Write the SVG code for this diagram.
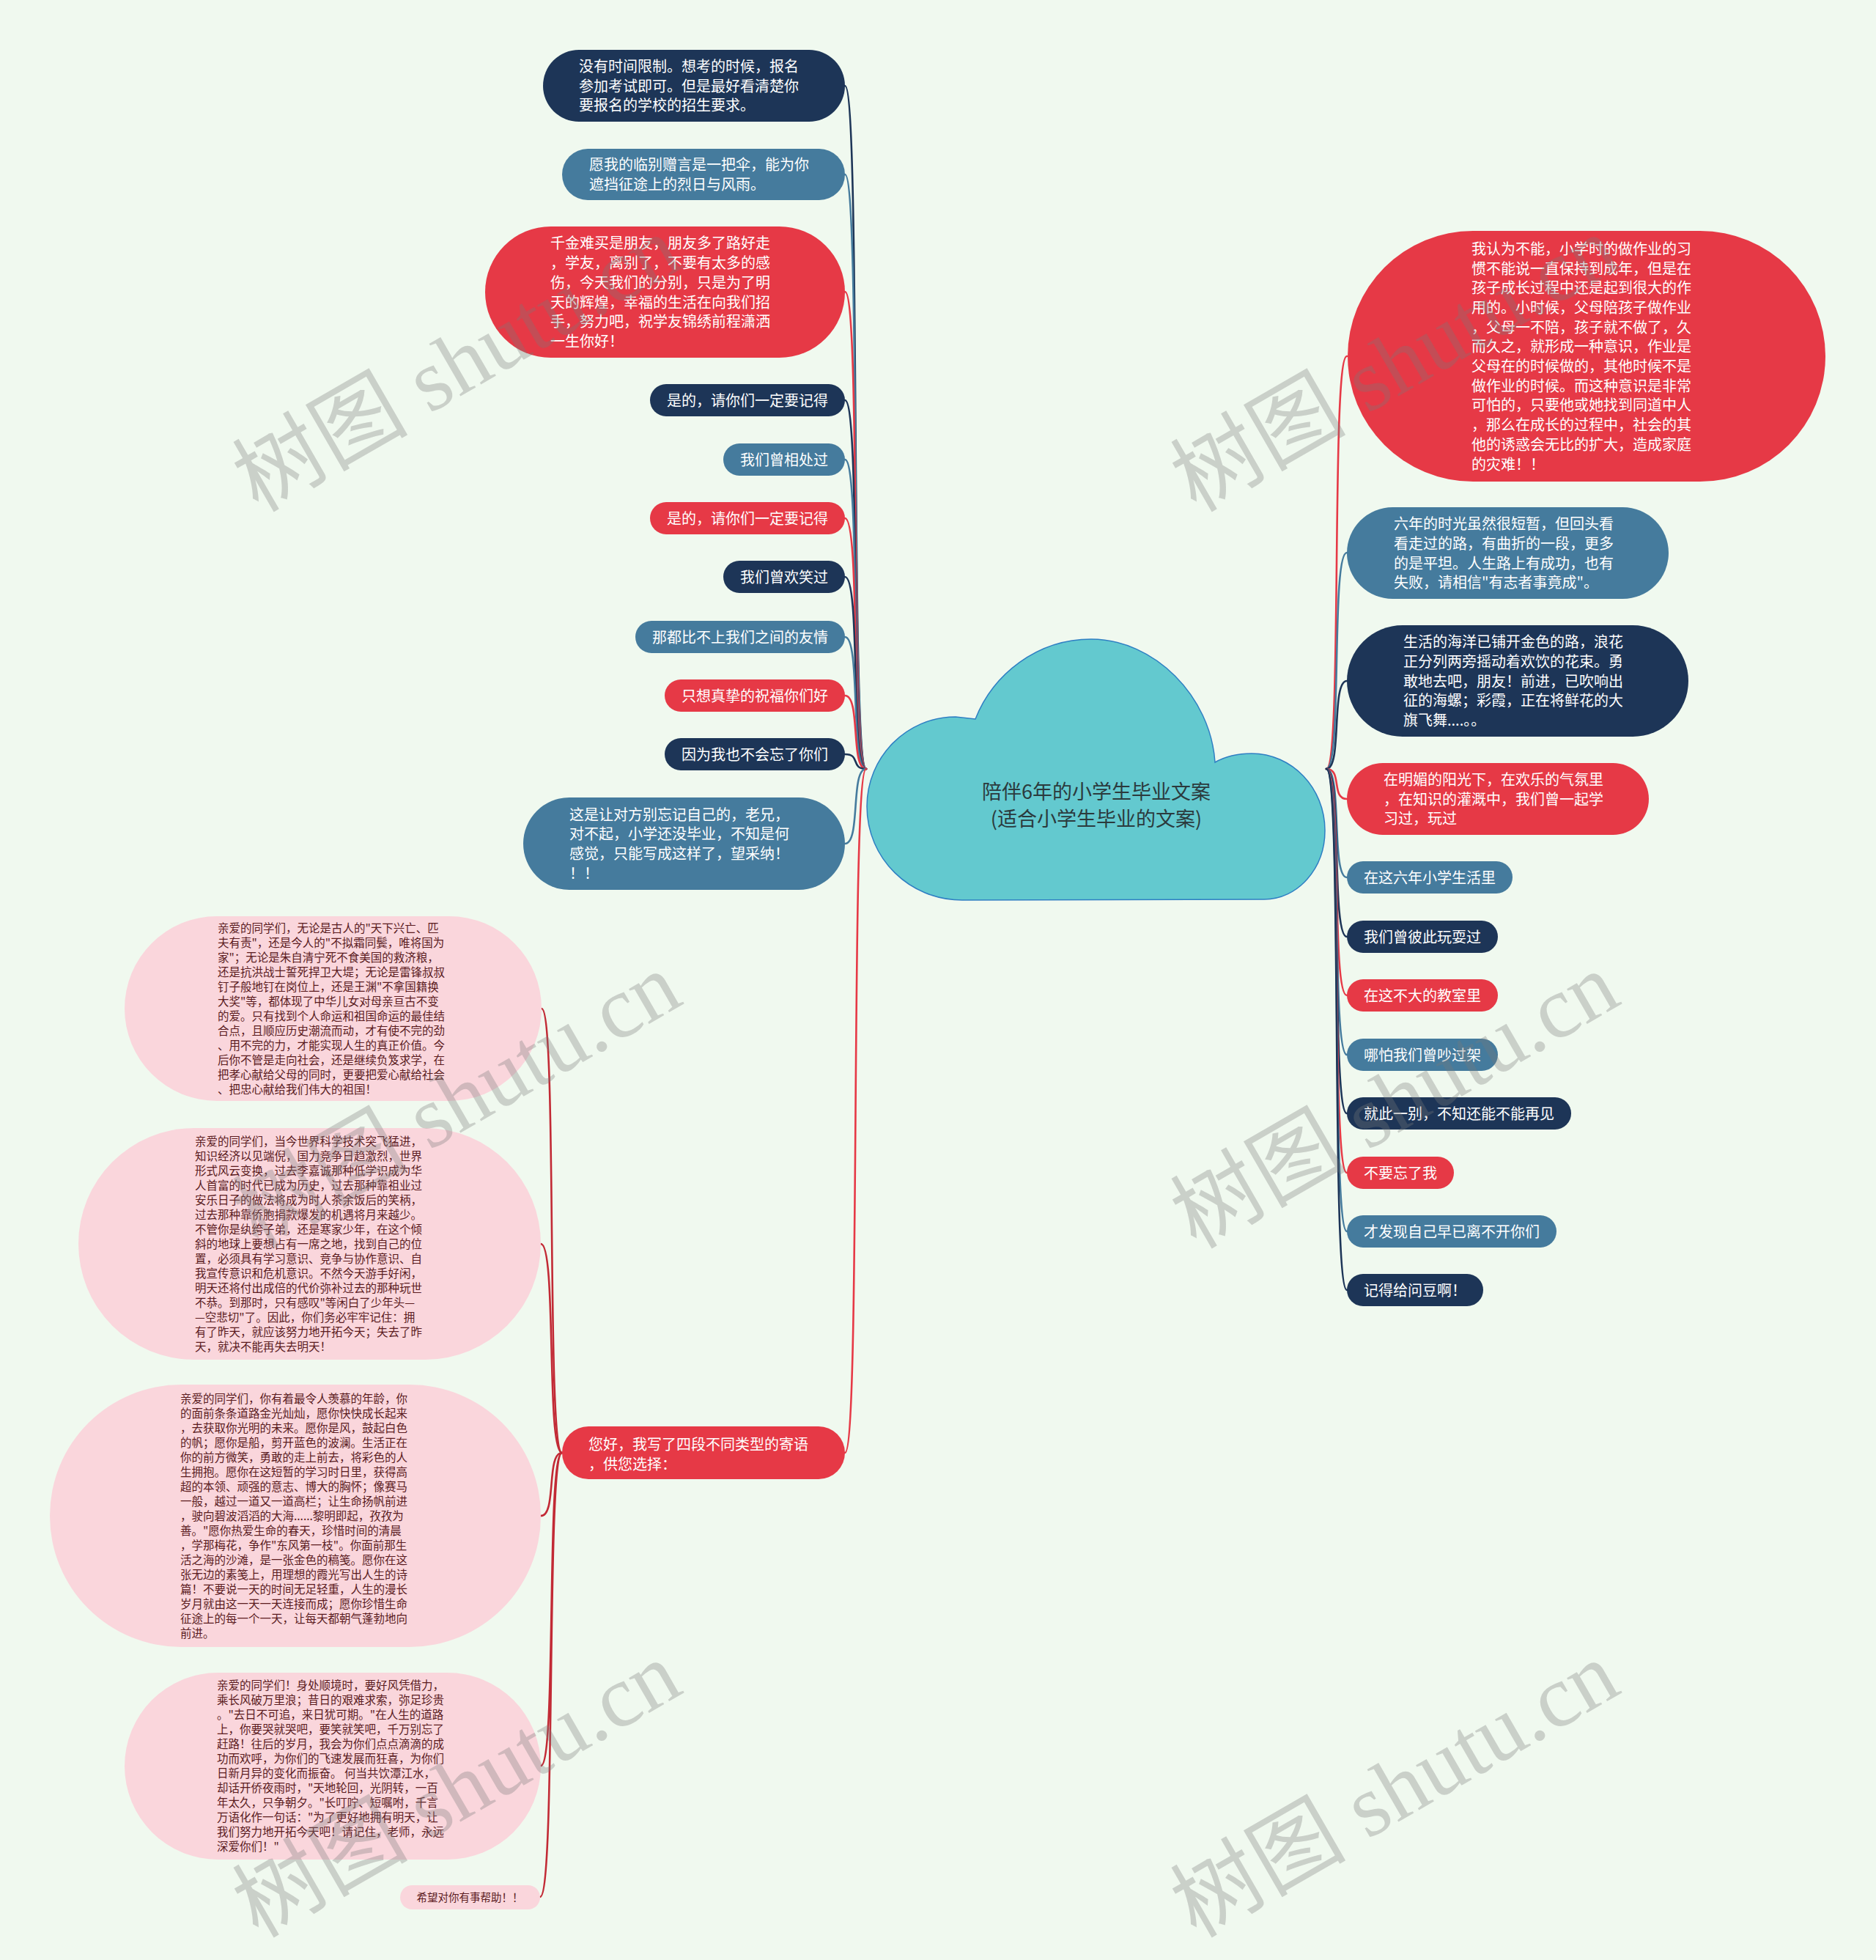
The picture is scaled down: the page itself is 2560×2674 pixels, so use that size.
<svg xmlns="http://www.w3.org/2000/svg" width="2560" height="2674" viewBox="0 0 2560 2674">
<style>
.nv{fill:#1d3557}.bl{fill:#457b9d}.rd{fill:#e63946}.pk{fill:#fad6dc}
.t{font-family:"Noto Sans CJK SC","Noto Sans",sans-serif;font-size:20px;fill:#ffffff}
.tm{font-family:"Noto Sans CJK SC","Noto Sans",sans-serif;font-size:20px;fill:#ffffff;text-anchor:middle}
.pt{font-family:"Noto Sans CJK SC","Noto Sans",sans-serif;font-size:15.5px;fill:#5a1b1e}
.c{fill:none;stroke-width:2.6;stroke-linecap:round}
.cn{stroke:#1d3557}.cb{stroke:#457b9d}.cr{stroke:#e63946}.cp{stroke:#c22a35}
.wm{font-family:"Liberation Serif","Noto Sans CJK SC",serif;font-size:120px;fill:#7a7a7a;fill-opacity:0.32}
</style>
<rect width="2560" height="2674" fill="#f0f9ef"/>

<g id="connectors">
<path class="c cn" d="M1153,117 C1175,117 1160,1049 1182,1049"/>
<path class="c cb" d="M1153,238 C1175,238 1160,1049 1182,1049"/>
<path class="c cr" d="M1153,398 C1175,398 1160,1049 1182,1049"/>
<path class="c cn" d="M1153,546 C1175,546 1160,1049 1182,1049"/>
<path class="c cb" d="M1153,627 C1175,627 1160,1049 1182,1049"/>
<path class="c cr" d="M1153,707 C1175,707 1160,1049 1182,1049"/>
<path class="c cn" d="M1153,787 C1175,787 1160,1049 1182,1049"/>
<path class="c cb" d="M1153,869 C1175,869 1160,1049 1182,1049"/>
<path class="c cr" d="M1153,949 C1175,949 1160,1049 1182,1049"/>
<path class="c cn" d="M1153,1029 C1175,1029 1160,1049 1182,1049"/>
<path class="c cb" d="M1153,1151 C1175,1151 1160,1049 1182,1049"/>
<path class="c cr" d="M1153,1982 C1175,1982 1160,1049 1182,1049"/>
<path class="c cr" d="M1838,486 C1816,486 1832,1049 1810,1049"/>
<path class="c cb" d="M1838,754 C1816,754 1832,1049 1810,1049"/>
<path class="c cn" d="M1838,929 C1816,929 1832,1049 1810,1049"/>
<path class="c cr" d="M1838,1090 C1816,1090 1832,1049 1810,1049"/>
<path class="c cb" d="M1838,1197 C1816,1197 1832,1049 1810,1049"/>
<path class="c cn" d="M1838,1278 C1816,1278 1832,1049 1810,1049"/>
<path class="c cr" d="M1838,1358 C1816,1358 1832,1049 1810,1049"/>
<path class="c cb" d="M1838,1439 C1816,1439 1832,1049 1810,1049"/>
<path class="c cn" d="M1838,1519 C1816,1519 1832,1049 1810,1049"/>
<path class="c cr" d="M1838,1600 C1816,1600 1832,1049 1810,1049"/>
<path class="c cb" d="M1838,1680 C1816,1680 1832,1049 1810,1049"/>
<path class="c cn" d="M1838,1760 C1816,1760 1832,1049 1810,1049"/>
<path class="c cp" d="M739,1376 C761,1376 745,1982 767,1982"/>
<path class="c cp" d="M738,1697 C760,1697 745,1982 767,1982"/>
<path class="c cp" d="M738,2068 C760,2068 745,1982 767,1982"/>
<path class="c cp" d="M738,2409 C760,2409 745,1982 767,1982"/>
<path class="c cp" d="M737,2588 C759,2588 745,1982 767,1982"/>
</g>

<g id="center">
<path d="M1313,1228 C1241,1228 1183,1171 1183,1100 C1183,1033 1237,978 1304,978 L1331,981 C1355,920 1415,872 1489,872 C1575,872 1652,950 1658,1040 C1672,1032 1690,1028 1708,1028 C1763,1028 1808,1075 1808,1133 C1808,1185 1771,1227 1725,1227 Z" fill="#63c9cf" stroke="#2f7fc3" stroke-width="1.5"/>
<text x="1496" y="1090" font-family="'Noto Sans CJK SC','Noto Sans',sans-serif" font-size="27" fill="#2b3a3d" text-anchor="middle">陪伴6年的小学生毕业文案</text>
<text x="1496" y="1127" font-family="'Noto Sans CJK SC','Noto Sans',sans-serif" font-size="27" fill="#2b3a3d" text-anchor="middle">(适合小学生毕业的文案)</text>
</g>

<g id="n1"><rect class="nv" x="741" y="68" width="412" height="98" rx="49"/>
<text class="t"><tspan x="790" y="98">没有时间限制。想考的时候，报名</tspan><tspan x="790" y="124.7">参加考试即可。但是最好看清楚你</tspan><tspan x="790" y="151.4">要报名的学校的招生要求。</tspan></text></g>

<g id="n2"><rect class="bl" x="767" y="203" width="386" height="70" rx="35"/>
<text class="t"><tspan x="804" y="232.2">愿我的临别赠言是一把伞，能为你</tspan><tspan x="804" y="258.9">遮挡征途上的烈日与风雨。</tspan></text></g>

<g id="n3"><rect class="rd" x="662" y="309" width="491" height="179" rx="89.5"/>
<text class="t"><tspan x="751" y="339.4">千金难买是朋友，朋友多了路好走</tspan><tspan x="751" y="366.1">，学友，离别了，不要有太多的感</tspan><tspan x="751" y="392.8">伤，今天我们的分别，只是为了明</tspan><tspan x="751" y="419.5">天的辉煌，幸福的生活在向我们招</tspan><tspan x="751" y="446.2">手，努力吧，祝学友锦绣前程潇洒</tspan><tspan x="751" y="472.9">一生你好！</tspan></text></g>

<g id="n4"><rect class="nv" x="887" y="524" width="266" height="44" rx="22"/><text class="tm" x="1020" y="553.6">是的，请你们一定要记得</text></g>
<g id="n5"><rect class="bl" x="987" y="605" width="166" height="44" rx="22"/><text class="tm" x="1070" y="634.6">我们曾相处过</text></g>
<g id="n6"><rect class="rd" x="887" y="685" width="266" height="44" rx="22"/><text class="tm" x="1020" y="714.6">是的，请你们一定要记得</text></g>
<g id="n7"><rect class="nv" x="987" y="765" width="166" height="44" rx="22"/><text class="tm" x="1070" y="794.6">我们曾欢笑过</text></g>
<g id="n8"><rect class="bl" x="867" y="847" width="286" height="44" rx="22"/><text class="tm" x="1010" y="876.6">那都比不上我们之间的友情</text></g>
<g id="n9"><rect class="rd" x="907" y="927" width="246" height="44" rx="22"/><text class="tm" x="1030" y="956.6">只想真挚的祝福你们好</text></g>
<g id="n10"><rect class="nv" x="907" y="1007" width="246" height="44" rx="22"/><text class="tm" x="1030" y="1036.6">因为我也不会忘了你们</text></g>

<g id="n11"><rect class="bl" x="714" y="1088" width="439" height="126" rx="63"/>
<text class="t"><tspan x="777" y="1118.6">这是让对方别忘记自己的，老兄，</tspan><tspan x="777" y="1145.3">对不起，小学还没毕业，不知是何</tspan><tspan x="777" y="1172">感觉，只能写成这样了，望采纳！</tspan><tspan x="777" y="1198.7">！！</tspan></text></g>

<g id="n12"><rect class="rd" x="1839" y="315" width="652" height="342" rx="171"/>
<text class="t"><tspan x="2008" y="346.8">我认为不能，小学时的做作业的习</tspan><tspan x="2008" y="373.5">惯不能说一直保持到成年，但是在</tspan><tspan x="2008" y="400.2">孩子成长过程中还是起到很大的作</tspan><tspan x="2008" y="426.9">用的。小时候，父母陪孩子做作业</tspan><tspan x="2008" y="453.6">，父母一不陪，孩子就不做了，久</tspan><tspan x="2008" y="480.3">而久之，就形成一种意识，作业是</tspan><tspan x="2008" y="507">父母在的时候做的，其他时候不是</tspan><tspan x="2008" y="533.7">做作业的时候。而这种意识是非常</tspan><tspan x="2008" y="560.4">可怕的，只要他或她找到同道中人</tspan><tspan x="2008" y="587.1">，那么在成长的过程中，社会的其</tspan><tspan x="2008" y="613.8">他的诱惑会无比的扩大，造成家庭</tspan><tspan x="2008" y="640.5">的灾难！！</tspan></text></g>

<g id="n13"><rect class="bl" x="1838" y="692" width="439" height="125" rx="62.5"/>
<text class="t"><tspan x="1902" y="722.1">六年的时光虽然很短暂，但回头看</tspan><tspan x="1902" y="748.8">看走过的路，有曲折的一段，更多</tspan><tspan x="1902" y="775.5">的是平坦。人生路上有成功，也有</tspan><tspan x="1902" y="802.2">失败，请相信"有志者事竟成"。</tspan></text></g>

<g id="n14"><rect class="nv" x="1838" y="853" width="466" height="152" rx="76"/>
<text class="t"><tspan x="1915" y="883.2">生活的海洋已铺开金色的路，浪花</tspan><tspan x="1915" y="909.9">正分列两旁摇动着欢饮的花束。勇</tspan><tspan x="1915" y="936.6">敢地去吧，朋友！前进，已吹响出</tspan><tspan x="1915" y="963.3">征的海螺；彩霞，正在将鲜花的大</tspan><tspan x="1915" y="990">旗飞舞....。。</tspan></text></g>

<g id="n15"><rect class="rd" x="1838" y="1041" width="412" height="98" rx="49"/>
<text class="t"><tspan x="1888" y="1070.9">在明媚的阳光下，在欢乐的气氛里</tspan><tspan x="1888" y="1097.6">，在知识的灌溉中，我们曾一起学</tspan><tspan x="1888" y="1124.3">习过，玩过</tspan></text></g>

<g id="n16"><rect class="bl" x="1838" y="1175" width="226" height="44" rx="22"/><text class="tm" x="1951" y="1204.6">在这六年小学生活里</text></g>
<g id="n17"><rect class="nv" x="1838" y="1256" width="206" height="44" rx="22"/><text class="tm" x="1941" y="1285.6">我们曾彼此玩耍过</text></g>
<g id="n18"><rect class="rd" x="1838" y="1336" width="206" height="44" rx="22"/><text class="tm" x="1941" y="1365.6">在这不大的教室里</text></g>
<g id="n19"><rect class="bl" x="1838" y="1417" width="206" height="44" rx="22"/><text class="tm" x="1941" y="1446.6">哪怕我们曾吵过架</text></g>
<g id="n20"><rect class="nv" x="1838" y="1497" width="306" height="44" rx="22"/><text class="tm" x="1991" y="1526.6">就此一别，不知还能不能再见</text></g>
<g id="n21"><rect class="rd" x="1838" y="1578" width="146" height="44" rx="22"/><text class="tm" x="1911" y="1607.6">不要忘了我</text></g>
<g id="n22"><rect class="bl" x="1838" y="1658" width="286" height="44" rx="22"/><text class="tm" x="1981" y="1687.6">才发现自己早已离不开你们</text></g>
<g id="n23"><rect class="nv" x="1838" y="1738" width="186" height="44" rx="22"/><text class="tm" x="1931" y="1767.6">记得给问豆啊！</text></g>

<g id="n24"><rect class="rd" x="767" y="1946" width="386" height="72" rx="36"/>
<text class="t"><tspan x="803" y="1978">您好，我写了四段不同类型的寄语</tspan><tspan x="803" y="2004.7">，供您选择：</tspan></text></g>

<g id="p1"><rect class="pk" x="170" y="1250" width="569" height="252" rx="126"/>
<text class="pt"><tspan x="297" y="1271.9">亲爱的同学们，无论是古人的"天下兴亡、匹</tspan><tspan x="297" dy="20">夫有责"，还是今人的"不拟霜同鬓，唯将国为</tspan><tspan x="297" dy="20">家"；无论是朱自清宁死不食美国的救济粮，</tspan><tspan x="297" dy="20">还是抗洪战士誓死捍卫大堤；无论是雷锋叔叔</tspan><tspan x="297" dy="20">钉子般地钉在岗位上，还是王渊"不拿国籍换</tspan><tspan x="297" dy="20">大奖"等，都体现了中华儿女对母亲亘古不变</tspan><tspan x="297" dy="20">的爱。只有找到个人命运和祖国命运的最佳结</tspan><tspan x="297" dy="20">合点，且顺应历史潮流而动，才有使不完的劲</tspan><tspan x="297" dy="20">、用不完的力，才能实现人生的真正价值。今</tspan><tspan x="297" dy="20">后你不管是走向社会，还是继续负笈求学，在</tspan><tspan x="297" dy="20">把孝心献给父母的同时，更要把爱心献给社会</tspan><tspan x="297" dy="20">、把忠心献给我们伟大的祖国！</tspan></text></g>

<g id="p2"><rect class="pk" x="107" y="1539" width="631" height="316" rx="158"/>
<text class="pt"><tspan x="266" y="1562.9">亲爱的同学们，当今世界科学技术突飞猛进，</tspan><tspan x="266" dy="20">知识经济以见端倪，国力竞争日趋激烈，世界</tspan><tspan x="266" dy="20">形式风云变换，过去李嘉诚那种低学识成为华</tspan><tspan x="266" dy="20">人首富的时代已成为历史，过去那种靠祖业过</tspan><tspan x="266" dy="20">安乐日子的做法将成为时人茶余饭后的笑柄，</tspan><tspan x="266" dy="20">过去那种靠侨胞捐款爆发的机遇将月来越少。</tspan><tspan x="266" dy="20">不管你是纨绔子弟，还是寒家少年，在这个倾</tspan><tspan x="266" dy="20">斜的地球上要想占有一席之地，找到自己的位</tspan><tspan x="266" dy="20">置，必须具有学习意识、竞争与协作意识、自</tspan><tspan x="266" dy="20">我宣传意识和危机意识。不然今天游手好闲，</tspan><tspan x="266" dy="20">明天还将付出成倍的代价弥补过去的那种玩世</tspan><tspan x="266" dy="20">不恭。到那时，只有感叹"等闲白了少年头—</tspan><tspan x="266" dy="20">—空悲切"了。因此，你们务必牢牢记住：拥</tspan><tspan x="266" dy="20">有了昨天，就应该努力地开拓今天；失去了昨</tspan><tspan x="266" dy="20">天，就决不能再失去明天！</tspan></text></g>

<g id="p3"><rect class="pk" x="68" y="1889" width="670" height="358" rx="179"/>
<text class="pt"><tspan x="246" y="1913.9">亲爱的同学们，你有着最令人羡慕的年龄，你</tspan><tspan x="246" dy="20">的面前条条道路金光灿灿，愿你快快成长起来</tspan><tspan x="246" dy="20">，去获取你光明的未来。愿你是风，鼓起白色</tspan><tspan x="246" dy="20">的帆；愿你是船，剪开蓝色的波澜。生活正在</tspan><tspan x="246" dy="20">你的前方微笑，勇敢的走上前去，将彩色的人</tspan><tspan x="246" dy="20">生拥抱。愿你在这短暂的学习时日里，获得高</tspan><tspan x="246" dy="20">超的本领、顽强的意志、博大的胸怀；像赛马</tspan><tspan x="246" dy="20">一般，越过一道又一道高栏；让生命扬帆前进</tspan><tspan x="246" dy="20">，驶向碧波滔滔的大海......黎明即起，孜孜为</tspan><tspan x="246" dy="20">善。"愿你热爱生命的春天，珍惜时间的清晨</tspan><tspan x="246" dy="20">，学那梅花，争作"东风第一枝"。你面前那生</tspan><tspan x="246" dy="20">活之海的沙滩，是一张金色的稿笺。愿你在这</tspan><tspan x="246" dy="20">张无边的素笺上，用理想的霞光写出人生的诗</tspan><tspan x="246" dy="20">篇！不要说一天的时间无足轻重，人生的漫长</tspan><tspan x="246" dy="20">岁月就由这一天一天连接而成；愿你珍惜生命</tspan><tspan x="246" dy="20">征途上的每一个一天，让每天都朝气蓬勃地向</tspan><tspan x="246" dy="20">前进。</tspan></text></g>

<g id="p4"><rect class="pk" x="170" y="2282" width="568" height="255" rx="127.5"/>
<text class="pt"><tspan x="296" y="2305.4">亲爱的同学们！身处顺境时，要好风凭借力，</tspan><tspan x="296" dy="20">乘长风破万里浪；昔日的艰难求索，弥足珍贵</tspan><tspan x="296" dy="20">。"去日不可追，来日犹可期。"在人生的道路</tspan><tspan x="296" dy="20">上，你要哭就哭吧，要笑就笑吧，千万别忘了</tspan><tspan x="296" dy="20">赶路！往后的岁月，我会为你们点点滴滴的成</tspan><tspan x="296" dy="20">功而欢呼，为你们的飞速发展而狂喜，为你们</tspan><tspan x="296" dy="20">日新月异的变化而振奋。 何当共饮潭江水，</tspan><tspan x="296" dy="20">却话开侨夜雨时，"天地轮回，光阴转，一百</tspan><tspan x="296" dy="20">年太久，只争朝夕。"长叮咛、短嘱咐，千言</tspan><tspan x="296" dy="20">万语化作一句话："为了更好地拥有明天，让</tspan><tspan x="296" dy="20">我们努力地开拓今天吧！请记住，老师，永远</tspan><tspan x="296" dy="20">深爱你们！"</tspan></text></g>

<g id="p5"><rect class="pk" x="546" y="2572" width="191" height="33" rx="16.5"/>
<text x="641" y="2594" font-family="'Noto Sans CJK SC','Noto Sans',sans-serif" font-size="14.5" fill="#5a1b1e" text-anchor="middle">希望对你有事帮助！！</text></g>

<g id="watermark">
<text class="wm" transform="translate(352,700) rotate(-30)">树图 shutu.cn</text>
<text class="wm" transform="translate(1632,700) rotate(-30)">树图 shutu.cn</text>
<text class="wm" transform="translate(352,1705) rotate(-30)">树图 shutu.cn</text>
<text class="wm" transform="translate(1632,1705) rotate(-30)">树图 shutu.cn</text>
<text class="wm" transform="translate(352,2645) rotate(-30)">树图 shutu.cn</text>
<text class="wm" transform="translate(1632,2645) rotate(-30)">树图 shutu.cn</text>
</g>
</svg>
